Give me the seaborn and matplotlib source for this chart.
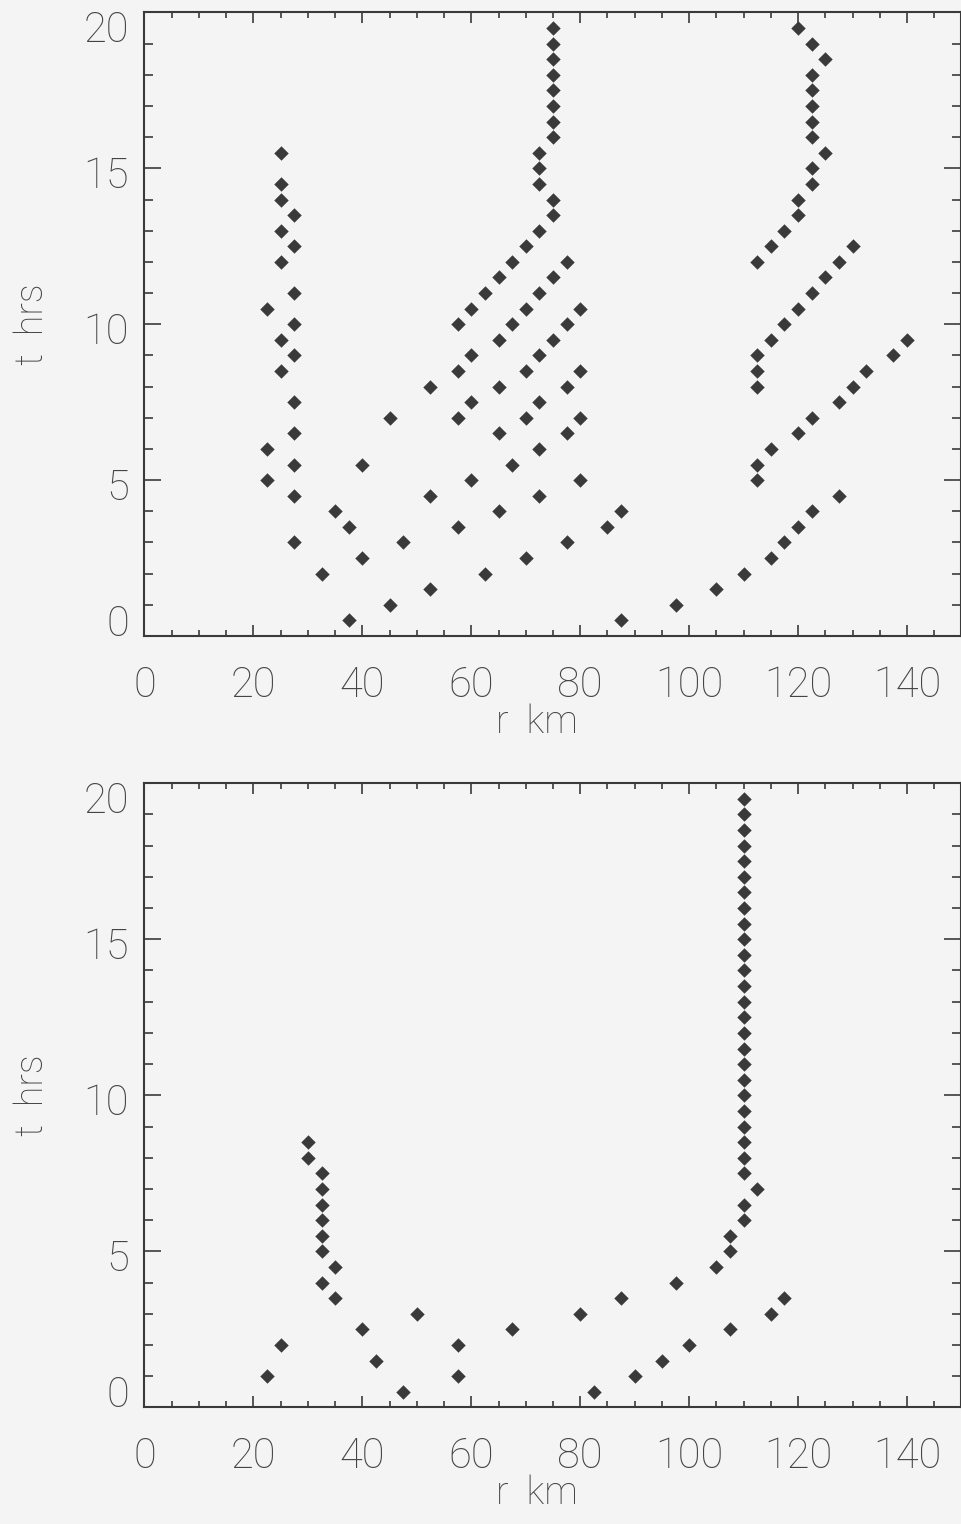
import matplotlib
matplotlib.use("Agg")
import matplotlib.pyplot as plt
from matplotlib.ticker import MultipleLocator
from matplotlib.transforms import ScaledTranslation
import seaborn as sns
import pandas as pd

# Upper panel: radius (km) and time (hrs) of each detected feature
r_upper = [37.5, 87.5,
           45, 97.5,
           52.5, 105,
           32.5, 62.5, 110,
           40, 70, 115,
           27.5, 47.5, 77.5, 117.5,
           37.5, 57.5, 85, 120,
           35, 65, 87.5, 122.5,
           27.5, 52.5, 72.5, 127.5,
           22.5, 60, 80, 112.5,
           27.5, 40, 67.5, 112.5,
           22.5, 72.5, 115,
           27.5, 65, 77.5, 120,
           45, 57.5, 70, 80, 122.5,
           27.5, 60, 72.5, 127.5,
           52.5, 65, 77.5, 112.5, 130,
           25, 57.5, 70, 80, 112.5, 132.5,
           27.5, 60, 72.5, 112.5, 137.5,
           25, 65, 75, 115, 140,
           27.5, 57.5, 67.5, 77.5, 117.5,
           22.5, 60, 70, 80, 120,
           27.5, 62.5, 72.5, 122.5,
           65, 75, 125,
           25, 67.5, 77.5, 112.5, 127.5,
           27.5, 70, 115, 130,
           25, 72.5, 117.5,
           27.5, 75, 120,
           25, 75, 120,
           25, 72.5, 122.5,
           72.5, 122.5,
           25, 72.5, 125,
           75, 122.5,
           75, 122.5,
           75, 122.5,
           75, 122.5,
           75, 122.5,
           75, 125,
           75, 122.5,
           75, 120]
t_upper = [0.5, 0.5,
           1.0, 1.0,
           1.5, 1.5,
           2.0, 2.0, 2.0,
           2.5, 2.5, 2.5,
           3.0, 3.0, 3.0, 3.0,
           3.5, 3.5, 3.5, 3.5,
           4.0, 4.0, 4.0, 4.0,
           4.5, 4.5, 4.5, 4.5,
           5.0, 5.0, 5.0, 5.0,
           5.5, 5.5, 5.5, 5.5,
           6.0, 6.0, 6.0,
           6.5, 6.5, 6.5, 6.5,
           7.0, 7.0, 7.0, 7.0, 7.0,
           7.5, 7.5, 7.5, 7.5,
           8.0, 8.0, 8.0, 8.0, 8.0,
           8.5, 8.5, 8.5, 8.5, 8.5, 8.5,
           9.0, 9.0, 9.0, 9.0, 9.0,
           9.5, 9.5, 9.5, 9.5, 9.5,
           10.0, 10.0, 10.0, 10.0, 10.0,
           10.5, 10.5, 10.5, 10.5, 10.5,
           11.0, 11.0, 11.0, 11.0,
           11.5, 11.5, 11.5,
           12.0, 12.0, 12.0, 12.0, 12.0,
           12.5, 12.5, 12.5, 12.5,
           13.0, 13.0, 13.0,
           13.5, 13.5, 13.5,
           14.0, 14.0, 14.0,
           14.5, 14.5, 14.5,
           15.0, 15.0,
           15.5, 15.5, 15.5,
           16.0, 16.0,
           16.5, 16.5,
           17.0, 17.0,
           17.5, 17.5,
           18.0, 18.0,
           18.5, 18.5,
           19.0, 19.0,
           19.5, 19.5]

# Lower panel
r_lower = [47.5, 82.5,
           22.5, 57.5, 90,
           42.5, 95,
           25, 57.5, 100,
           40, 67.5, 107.5,
           50, 80, 115,
           35, 87.5, 117.5,
           32.5, 97.5,
           35, 105,
           32.5, 107.5,
           32.5, 107.5,
           32.5, 110,
           32.5, 110,
           32.5, 112.5,
           32.5, 110,
           30, 110,
           30, 110,
           110, 110, 110, 110, 110, 110, 110, 110, 110, 110, 110,
           110, 110, 110, 110, 110, 110, 110, 110, 110, 110, 110]
t_lower = [0.5, 0.5,
           1.0, 1.0, 1.0,
           1.5, 1.5,
           2.0, 2.0, 2.0,
           2.5, 2.5, 2.5,
           3.0, 3.0, 3.0,
           3.5, 3.5, 3.5,
           4.0, 4.0,
           4.5, 4.5,
           5.0, 5.0,
           5.5, 5.5,
           6.0, 6.0,
           6.5, 6.5,
           7.0, 7.0,
           7.5, 7.5,
           8.0, 8.0,
           8.5, 8.5,
           9.0, 9.5, 10.0, 10.5, 11.0, 11.5, 12.0, 12.5, 13.0, 13.5, 14.0,
           14.5, 15.0, 15.5, 16.0, 16.5, 17.0, 17.5, 18.0, 18.5, 19.0, 19.5]

x_ticks = [0, 20, 40, 60, 80, 100, 120, 140]
y_ticks = [0, 5, 10, 15, 20]
x_label = "r  km"
y_label = "t  hrs"

BG = "#f4f4f4"
INK = "#3a3a3a"
TXT = "#444444"

sns.set_theme(style="ticks")
plt.rcParams["font.family"] = ["Roboto", "DejaVu Sans"]
plt.rcParams["font.weight"] = "light"
plt.rcParams["axes.labelweight"] = "light"

fig = plt.figure(figsize=(9.62, 15.24), dpi=100, facecolor=BG)
W, H = 962.0, 1524.0
left, right = 144.5, 961.5
panels = [(12.5, 636.0, r_upper, t_upper), (783.3, 1407.3, r_lower, t_lower)]

for top, bottom, rr, tt in panels:
    ax = fig.add_axes([left / W, 1 - bottom / H, (right - left) / W, (bottom - top) / H])
    ax.set_facecolor(BG)
    df = pd.DataFrame({"r": rr, "t": tt})
    sns.scatterplot(data=df, x="r", y="t", marker="D", s=54, color=INK,
                    linewidth=0, ax=ax, legend=False)
    ax.set_xlim(0, 150)
    ax.set_ylim(0, 20)
    ax.set_xticks(x_ticks)
    ax.set_yticks(y_ticks)
    ax.xaxis.set_minor_locator(MultipleLocator(5))
    ax.yaxis.set_minor_locator(MultipleLocator(1))
    for s in ax.spines.values():
        s.set_color(INK)
        s.set_linewidth(1.5)
        s.set_visible(True)
    ax.tick_params(which="both", direction="in", top=True, right=True,
                   color=INK, width=1.2, labelcolor=TXT, labelsize=30)
    ax.tick_params(axis="x", which="major", length=8, pad=21)
    ax.tick_params(axis="x", which="minor", length=4)
    ax.tick_params(axis="y", which="major", length=12, pad=11)
    ax.tick_params(axis="y", which="minor", length=6.5)

    # keep the end labels of the t axis inside the axis span
    ylabels = ax.get_yticklabels()
    ylabels[0].set_verticalalignment("bottom")
    ylabels[0].set_transform(ylabels[0].get_transform()
                             + ScaledTranslation(0, -0.09, fig.dpi_scale_trans))
    ylabels[-1].set_verticalalignment("top")
    ylabels[-1].set_transform(ylabels[-1].get_transform()
                              + ScaledTranslation(0, 0.02, fig.dpi_scale_trans))
    nudge = ScaledTranslation(0, -0.04, fig.dpi_scale_trans)
    for lab in ylabels[1:-1]:
        lab.set_transform(lab.get_transform() + nudge)

    ax.set_xlabel(x_label, fontsize=27, color=TXT)
    ax.set_ylabel(y_label, fontsize=27, color=TXT)
    ax.xaxis.set_label_coords(0.48, -0.108)
    ax.yaxis.set_label_coords(-0.115, 0.5)

fig.savefig("out.png", dpi=100, facecolor=BG)
